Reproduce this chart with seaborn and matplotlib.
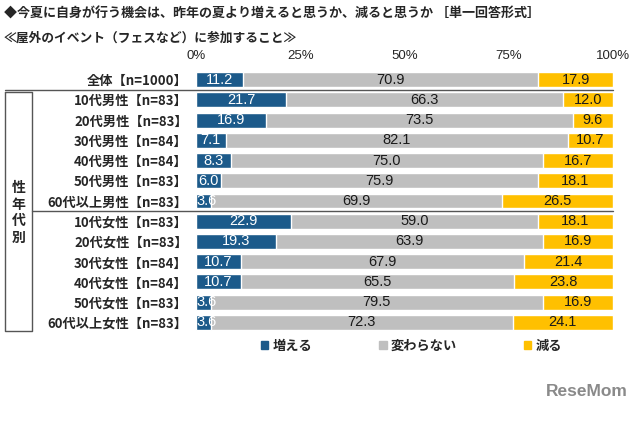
import matplotlib
matplotlib.use("Agg")
import matplotlib.pyplot as plt
import pandas as pd
import seaborn as sns
from matplotlib.patches import Patch
from matplotlib.lines import Line2D

sns.set_style("white")
plt.rcParams["font.family"] = ["Noto Sans CJK JP", "DejaVu Sans"]

groups = ["全体【n=1000】",
          "10代男性【n=83】", "20代男性【n=83】", "30代男性【n=84】",
          "40代男性【n=84】", "50代男性【n=83】", "60代以上男性【n=83】",
          "10代女性【n=83】", "20代女性【n=83】", "30代女性【n=84】",
          "40代女性【n=84】", "50代女性【n=83】", "60代以上女性【n=83】"]
increase = [11.2, 21.7, 16.9, 7.1, 8.3, 6.0, 3.6, 22.9, 19.3, 10.7, 10.7, 3.6, 3.6]
same = [70.9, 66.3, 73.5, 82.1, 75.0, 75.9, 69.9, 59.0, 63.9, 67.9, 65.5, 79.5, 72.3]
decrease = [17.9, 12.0, 9.6, 10.7, 16.7, 18.1, 26.5, 18.1, 16.9, 21.4, 23.8, 16.9, 24.1]
series_names = ["増える", "変わらない", "減る"]
colors = ["#1C5A8A", "#BFBFBF", "#FFC000"]

df = pd.DataFrame({"group": groups, "inc": increase, "same": same, "dec": decrease})
df["c1"] = df["inc"]
df["c2"] = df["inc"] + df["same"]
df["c3"] = df["c2"] + df["dec"]


def fx(px):
    return px / 640


def fy(py):
    return 1 - py / 421


fig = plt.figure(figsize=(6.4, 4.21), dpi=100)
ax = fig.add_axes([fx(196), fy(332.6), 417 / 640, 263.2 / 421])

# stacked bars: draw cumulative totals back to front
for col, c in zip(["c3", "c2", "c1"], colors[::-1]):
    sns.barplot(data=df, x=col, y="group", orient="h", color=c, width=0.74,
                saturation=1, ax=ax)

ax.set_xlim(0, 100)
ax.set_ylim(12.5, -0.5)
ax.set_xlabel("")
ax.set_ylabel("")
ax.xaxis.tick_top()
ax.set_xticks([0, 25, 50, 75, 100])
ax.set_xticklabels(["0%", "25%", "50%", "75%", "100%"], fontsize=9.5,
                   family=["Liberation Sans"])
ax.tick_params(axis="x", length=0, pad=5)
ax.tick_params(axis="y", length=0, pad=6)
for lbl in ax.get_yticklabels():
    lbl.set_fontsize(9.5)
    lbl.set_fontweight("bold")
for s in ax.spines.values():
    s.set_visible(False)

# value labels
vfont = dict(fontsize=10.5, family=["Liberation Sans"], va="center", ha="center")
for i, row in df.iterrows():
    ax.text(max(row["inc"] / 2, 2.5), i, f"{row['inc']:.1f}", color="white", **vfont)
    ax.text(row["inc"] + row["same"] / 2, i, f"{row['same']:.1f}", color="#1a1a1a", **vfont)
    ax.text(row["c2"] + row["dec"] / 2, i, f"{row['dec']:.1f}", color="#1a1a1a", **vfont)

# titles
fig.text(fx(4), fy(14),
         "◆今夏に自身が行う機会は、昨年の夏より増えると思うか、減ると思うか ［単一回答形式］",
         fontsize=9.4, fontweight="bold", va="center", ha="left")
fig.text(fx(4), fy(38), "≪屋外のイベント（フェスなど）に参加すること≫",
         fontsize=9.2, fontweight="bold", va="center", ha="left")

# separators and group box
lc = "#555555"
fig.add_artist(Line2D([fx(5), fx(613)], [fy(89.6), fy(89.6)], color=lc, lw=1))
fig.add_artist(Line2D([fx(32), fx(613)], [fy(211.2), fy(211.2)], color=lc, lw=1))
fig.add_artist(Line2D([fx(5), fx(32), fx(32), fx(5), fx(5)],
                      [fy(92), fy(92), fy(331), fy(331), fy(92)], color=lc, lw=1))
fig.text(fx(18.5), fy(213), "性\n年\n代\n別", ha="center", va="center",
         fontsize=10, fontweight="bold", linespacing=1.22)

# legend
handles = [Patch(color=c) for c in colors]
fig.legend(handles, series_names, loc="center left", bbox_to_anchor=(fx(261), fy(346)),
           ncol=3, frameon=False, handlelength=0.55, handleheight=0.55,
           handletextpad=0.3, columnspacing=5.1, borderpad=0, borderaxespad=0,
           prop={"family": "Noto Sans CJK JP", "weight": "bold", "size": 9.5})

fig.text(fx(628), fy(392), "ReseMom", ha="right", va="center", fontsize=12.5,
         fontweight="bold", color="#8A8A8A", family=["Liberation Sans"])

fig.savefig("out.png", dpi=100)
